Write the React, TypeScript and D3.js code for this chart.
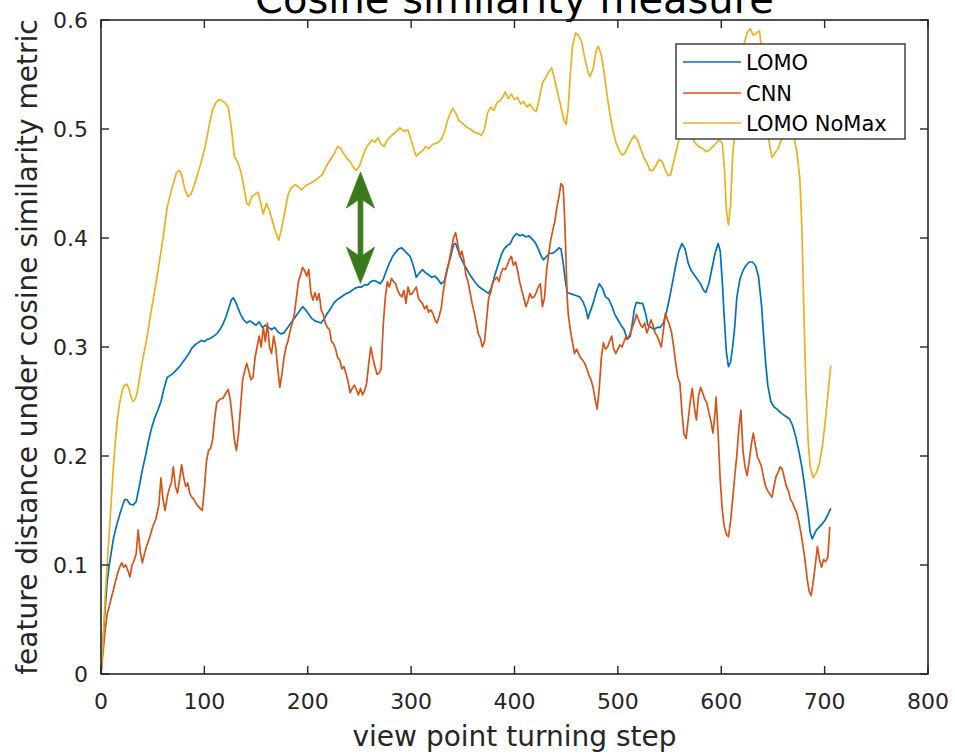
import React from "react";
import * as d3 from "d3";

// ---------- data ----------
const xTicks = [0, 100, 200, 300, 400, 500, 600, 700, 800];
const yTicks = [0, 0.1, 0.2, 0.3, 0.4, 0.5, 0.6];
const yTickLabels = ["0", "0.1", "0.2", "0.3", "0.4", "0.5", "0.6"];
const seriesNames = ["LOMO", "CNN", "LOMO NoMax"];
const titleText = "Cosine similarity measure";
const xLabel = "view point turning step";
const yLabel = "feature distance under cosine similarity metric";

// LOMO (blue)
const lomoX = [0,2,4,6,8,10,12,15,18,21,23,25,28,31,34,37,40,43,46,49,52,55,58,61,64,67,70,73,76,79,82,85,88,91,94,97,100,103,106,109,112,115,118,121,124,126,128,130,132,135,138,141,144,147,150,153,156,159,162,165,168,171,174,177,180,183,186,189,192,195,198,201,204,207,210,213,216,219,222,225,228,231,234,237,240,243,246,249,252,255,258,261,264,267,270,273,276,279,282,285,288,291,294,297,299,302,305,308,311,314,317,320,323,326,329,332,335,338,341,343,345,348,351,354,357,360,363,366,369,372,375,378,381,384,387,390,393,396,399,402,405,408,411,414,417,420,423,426,428,431,434,437,440,443,445,447,449,451,454,457,460,463,466,469,471,473,476,479,482,485,488,491,494,497,500,503,506,509,512,514,516,518,521,524,527,529,532,535,538,541,544,547,550,553,556,559,562,565,568,571,574,577,580,583,585,588,591,594,597,599,601,603,605,607,609,611,613,615,618,621,624,627,630,633,636,639,641,643,645,648,651,654,657,660,663,666,669,672,675,678,681,684,686,688,690,692,695,698,701,704,706];
const lomoY = [0,0.03,0.06,0.085,0.1,0.112,0.124,0.136,0.146,0.155,0.16,0.16,0.156,0.155,0.158,0.172,0.187,0.2,0.214,0.226,0.235,0.242,0.25,0.262,0.272,0.274,0.276,0.279,0.282,0.286,0.29,0.294,0.299,0.302,0.304,0.306,0.305,0.307,0.308,0.31,0.312,0.316,0.321,0.328,0.337,0.343,0.345,0.342,0.337,0.33,0.325,0.322,0.324,0.322,0.32,0.323,0.318,0.32,0.318,0.316,0.318,0.314,0.312,0.313,0.317,0.321,0.325,0.329,0.333,0.337,0.334,0.33,0.326,0.324,0.323,0.322,0.326,0.331,0.335,0.34,0.343,0.345,0.347,0.349,0.35,0.352,0.354,0.355,0.355,0.357,0.357,0.36,0.361,0.36,0.358,0.362,0.37,0.377,0.383,0.387,0.39,0.391,0.388,0.385,0.383,0.375,0.364,0.368,0.371,0.368,0.366,0.364,0.365,0.362,0.358,0.36,0.372,0.382,0.394,0.395,0.39,0.382,0.376,0.371,0.366,0.362,0.358,0.355,0.353,0.351,0.349,0.355,0.366,0.375,0.384,0.39,0.393,0.395,0.401,0.404,0.402,0.403,0.401,0.402,0.399,0.396,0.39,0.383,0.38,0.383,0.386,0.386,0.388,0.391,0.39,0.378,0.362,0.35,0.349,0.348,0.347,0.346,0.342,0.335,0.326,0.332,0.34,0.35,0.358,0.354,0.346,0.344,0.338,0.33,0.325,0.32,0.316,0.307,0.31,0.322,0.335,0.341,0.34,0.34,0.33,0.32,0.318,0.316,0.318,0.318,0.322,0.332,0.345,0.36,0.375,0.388,0.395,0.39,0.377,0.37,0.366,0.362,0.358,0.352,0.35,0.358,0.372,0.386,0.395,0.388,0.36,0.325,0.295,0.282,0.286,0.3,0.318,0.345,0.362,0.37,0.375,0.378,0.378,0.375,0.365,0.338,0.31,0.285,0.265,0.25,0.245,0.243,0.24,0.238,0.236,0.234,0.228,0.218,0.205,0.19,0.17,0.148,0.13,0.124,0.128,0.132,0.135,0.138,0.142,0.148,0.152];

// CNN (orange)
const cnnX = [0,2,4,6,8,10,12,14,16,18,20,22,24,26,28,30,32,34,36,38,40,42,44,47,50,53,56,58,60,62,64,66,68,70,72,74,76,78,80,82,84,86,88,90,93,96,98,100,102,104,106,108,110,112,115,118,121,123,125,127,129,131,133,135,137,139,141,143,145,147,149,151,153,155,157,159,161,163,165,167,169,171,173,175,177,179,181,183,185,187,189,191,193,195,197,199,201,203,205,207,209,211,213,215,217,219,221,223,225,227,229,231,233,235,237,239,241,243,245,247,249,251,253,255,257,259,261,263,265,267,269,271,273,275,277,279,281,283,285,287,289,291,293,295,297,299,301,303,305,307,309,311,313,315,317,319,321,323,325,327,329,331,333,335,337,339,341,343,345,347,349,351,353,355,357,359,361,363,365,367,369,371,373,375,377,379,381,383,385,387,389,391,393,395,397,399,401,403,405,407,409,411,413,415,417,419,421,423,425,427,429,431,433,435,437,439,441,443,445,447,448,449,450,451,452,454,456,458,460,462,464,466,468,470,472,474,476,478,480,482,484,486,488,490,492,494,496,498,500,502,504,506,508,510,512,514,516,518,520,522,524,526,528,530,532,534,536,538,540,542,544,546,548,550,552,554,556,558,560,562,564,566,568,570,572,574,576,578,580,582,584,586,588,590,592,594,595,597,599,601,603,605,607,609,611,613,615,617,619,621,623,625,627,629,631,633,635,637,639,641,643,645,647,649,651,653,655,657,659,661,663,665,667,669,671,673,675,677,679,681,683,685,687,689,691,693,695,697,699,701,703,704,705];
const cnnY = [0,0.02,0.04,0.055,0.062,0.07,0.077,0.085,0.092,0.098,0.102,0.098,0.1,0.095,0.089,0.1,0.104,0.11,0.132,0.112,0.102,0.11,0.117,0.125,0.135,0.142,0.155,0.18,0.16,0.15,0.162,0.17,0.175,0.19,0.172,0.166,0.178,0.192,0.18,0.172,0.175,0.165,0.162,0.16,0.155,0.152,0.15,0.17,0.195,0.205,0.207,0.215,0.235,0.249,0.252,0.253,0.258,0.261,0.252,0.235,0.215,0.205,0.22,0.245,0.27,0.278,0.285,0.278,0.27,0.272,0.29,0.3,0.31,0.3,0.318,0.305,0.322,0.3,0.294,0.31,0.3,0.28,0.263,0.275,0.29,0.3,0.306,0.315,0.322,0.33,0.345,0.36,0.366,0.373,0.37,0.365,0.371,0.35,0.343,0.35,0.343,0.349,0.334,0.33,0.322,0.318,0.316,0.305,0.303,0.298,0.29,0.288,0.28,0.282,0.276,0.268,0.258,0.262,0.265,0.261,0.256,0.262,0.256,0.26,0.267,0.285,0.3,0.29,0.282,0.275,0.276,0.28,0.32,0.345,0.36,0.355,0.363,0.36,0.358,0.352,0.348,0.346,0.352,0.34,0.355,0.348,0.349,0.352,0.355,0.345,0.342,0.34,0.335,0.338,0.332,0.334,0.331,0.325,0.322,0.328,0.335,0.35,0.362,0.371,0.38,0.39,0.4,0.405,0.395,0.383,0.388,0.38,0.366,0.36,0.35,0.34,0.332,0.322,0.312,0.308,0.3,0.305,0.325,0.345,0.35,0.36,0.362,0.364,0.36,0.368,0.372,0.371,0.375,0.38,0.383,0.375,0.378,0.37,0.36,0.352,0.345,0.337,0.342,0.349,0.345,0.346,0.35,0.355,0.358,0.337,0.345,0.37,0.385,0.398,0.407,0.415,0.428,0.438,0.45,0.447,0.43,0.405,0.375,0.345,0.33,0.316,0.305,0.294,0.298,0.294,0.29,0.288,0.285,0.28,0.274,0.27,0.263,0.252,0.243,0.262,0.29,0.304,0.298,0.3,0.305,0.31,0.298,0.294,0.298,0.302,0.3,0.305,0.31,0.308,0.313,0.318,0.323,0.33,0.325,0.32,0.318,0.322,0.313,0.318,0.325,0.32,0.313,0.31,0.305,0.3,0.315,0.331,0.325,0.32,0.313,0.3,0.285,0.272,0.267,0.24,0.22,0.216,0.233,0.25,0.262,0.245,0.233,0.255,0.263,0.258,0.252,0.249,0.24,0.232,0.221,0.24,0.254,0.22,0.178,0.15,0.135,0.128,0.126,0.14,0.16,0.181,0.2,0.225,0.242,0.205,0.19,0.182,0.195,0.21,0.221,0.21,0.199,0.195,0.19,0.18,0.172,0.168,0.165,0.162,0.172,0.181,0.185,0.19,0.188,0.18,0.172,0.168,0.16,0.157,0.152,0.148,0.14,0.13,0.118,0.105,0.088,0.076,0.072,0.085,0.1,0.117,0.105,0.098,0.105,0.103,0.107,0.12,0.135];

// LOMO NoMax (yellow)
const noMaxX = [0,2,4,6,8,10,12,14,16,18,20,22,25,27,29,31,33,35,38,41,44,48,52,56,60,64,67,70,73,76,78,81,84,87,90,93,97,101,105,108,111,114,117,120,123,126,129,132,135,138,141,143,146,149,152,155,157,160,163,166,169,172,175,178,181,184,188,191,194,198,202,206,210,214,218,222,226,229,232,235,238,241,244,247,250,253,256,259,262,265,268,271,274,277,281,285,289,293,297,300,303,305,308,311,314,317,321,325,329,332,336,340,343,346,350,353,357,361,365,368,371,374,377,380,383,386,389,391,394,397,400,403,406,409,412,415,418,421,424,427,430,433,436,439,442,445,448,450,452,454,456,459,462,465,468,471,473,476,479,481,484,486,489,492,495,498,501,504,507,510,513,516,519,522,525,528,531,534,537,540,543,546,549,551,553,556,559,562,566,570,574,578,582,586,590,594,598,601,603,605,607,609,611,613,616,619,622,625,628,631,634,637,640,643,646,649,652,655,658,662,666,670,673,676,678,680,682,684,686,689,692,695,698,701,704,706];
const noMaxY = [0,0.03,0.07,0.1,0.13,0.16,0.19,0.215,0.235,0.248,0.258,0.264,0.266,0.262,0.254,0.25,0.252,0.258,0.276,0.292,0.306,0.33,0.352,0.375,0.4,0.428,0.44,0.45,0.46,0.462,0.458,0.445,0.438,0.44,0.448,0.457,0.47,0.485,0.505,0.518,0.524,0.527,0.526,0.524,0.52,0.502,0.475,0.47,0.462,0.448,0.432,0.43,0.438,0.44,0.442,0.43,0.422,0.432,0.425,0.415,0.405,0.398,0.41,0.425,0.44,0.446,0.449,0.447,0.444,0.448,0.45,0.452,0.455,0.458,0.466,0.472,0.478,0.484,0.482,0.477,0.473,0.47,0.465,0.462,0.466,0.474,0.482,0.486,0.49,0.488,0.492,0.486,0.484,0.49,0.494,0.497,0.501,0.498,0.499,0.49,0.48,0.475,0.478,0.48,0.484,0.482,0.486,0.487,0.49,0.497,0.51,0.519,0.515,0.508,0.505,0.502,0.5,0.497,0.496,0.494,0.5,0.515,0.52,0.517,0.524,0.526,0.53,0.534,0.528,0.532,0.527,0.529,0.523,0.525,0.52,0.523,0.518,0.516,0.528,0.542,0.547,0.552,0.556,0.545,0.532,0.52,0.508,0.504,0.52,0.55,0.575,0.588,0.586,0.58,0.565,0.553,0.548,0.555,0.572,0.576,0.568,0.556,0.535,0.515,0.5,0.488,0.481,0.476,0.478,0.484,0.49,0.494,0.49,0.482,0.474,0.469,0.462,0.462,0.467,0.472,0.47,0.462,0.457,0.458,0.466,0.478,0.49,0.5,0.503,0.496,0.488,0.484,0.482,0.479,0.482,0.486,0.49,0.487,0.465,0.425,0.412,0.43,0.475,0.495,0.52,0.555,0.578,0.588,0.592,0.586,0.588,0.59,0.565,0.52,0.49,0.474,0.478,0.482,0.49,0.495,0.497,0.494,0.48,0.455,0.41,0.33,0.26,0.215,0.19,0.18,0.185,0.193,0.21,0.235,0.265,0.283];

const colors = ["#0072BD", "#D95319", "#EDB120"];

// annotation arrow (data coordinates)
const arrowX = [251];
const arrowYTop = [0.4605];
const arrowYBottom = [0.3585];

// ---------- layout ----------
const W = 955;
const H = 754;
const x = d3.scaleLinear().domain([0, 800]).range([101, 928]);
const y = d3.scaleLinear().domain([0, 0.6]).range([674, 20]);
const axisColor = "#262626";
const font = "'DejaVu Sans', Verdana, sans-serif";

function zip(xs: number[], ys: number[]): [number, number][] {
  return xs.map((v, i) => [v, ys[i]]);
}

export default function App() {
  const line = d3
    .line<[number, number]>()
    .x((d) => x(d[0]))
    .y((d) => y(d[1]));

  const series = [zip(lomoX, lomoY), zip(cnnX, cnnY), zip(noMaxX, noMaxY)];

  const [x0, x1] = x.range();
  const [y0, y1] = y.range();
  const tickLen = 8;

  // arrow geometry
  const ax = x(arrowX[0]);
  const aTop = y(arrowYTop[0]);
  const aBot = y(arrowYBottom[0]);
  const headL = 36;
  const headW = 14;
  const notch = 8;
  const shaftW = 2.4;
  const arrowPath = [
    `M${ax},${aTop}`,
    `L${ax + headW},${aTop + headL}`,
    `L${ax + shaftW},${aTop + headL - notch}`,
    `L${ax + shaftW},${aBot - headL + notch}`,
    `L${ax + headW},${aBot - headL}`,
    `L${ax},${aBot}`,
    `L${ax - headW},${aBot - headL}`,
    `L${ax - shaftW},${aBot - headL + notch}`,
    `L${ax - shaftW},${aTop + headL - notch}`,
    `L${ax - headW},${aTop + headL}`,
    "Z",
  ].join(" ");

  // legend
  const lgX = 676;
  const lgY = 44;
  const lgW = 229;
  const lgH = 95;
  const rowY = [62, 93, 123];

  return (
    <svg
      width={W}
      height={H}
      style={{ position: "absolute", left: 0, top: 0, background: "#fff" }}
      fontFamily={font}
    >
      <rect x={0} y={0} width={W} height={H} fill="#fff" />
      {/* title */}
      <text
        x={(x0 + x1) / 2}
        y={13}
        textAnchor="middle"
        fontSize={40}
        fill="#000"
      >
        {titleText}
      </text>

      {/* series */}
      <defs>
        <clipPath id="plotclip">
          <rect x={x0} y={y1} width={x1 - x0} height={y0 - y1} />
        </clipPath>
      </defs>
      <g clipPath="url(#plotclip)">
        {series.map((s, i) => (
          <path
            key={i}
            d={line(s) || ""}
            fill="none"
            stroke={colors[i]}
            strokeWidth={1.7}
            strokeLinejoin="round"
          />
        ))}
      </g>

      {/* axes box */}
      <rect
        x={x0}
        y={y1}
        width={x1 - x0}
        height={y0 - y1}
        fill="none"
        stroke={axisColor}
        strokeWidth={1.6}
      />
      {xTicks.map((t) => (
        <g key={"xt" + t}>
          <line x1={x(t)} x2={x(t)} y1={y0} y2={y0 - tickLen} stroke={axisColor} strokeWidth={1.4} />
          <line x1={x(t)} x2={x(t)} y1={y1} y2={y1 + tickLen} stroke={axisColor} strokeWidth={1.4} />
          <text x={x(t)} y={709} textAnchor="middle" fontSize={22} fill={axisColor}>
            {t}
          </text>
        </g>
      ))}
      {yTicks.map((t, i) => (
        <g key={"yt" + t}>
          <line x1={x0} x2={x0 + tickLen} y1={y(t)} y2={y(t)} stroke={axisColor} strokeWidth={1.4} />
          <line x1={x1} x2={x1 - tickLen} y1={y(t)} y2={y(t)} stroke={axisColor} strokeWidth={1.4} />
          <text x={88} y={y(t)} dy="0.36em" textAnchor="end" fontSize={22} fill={axisColor}>
            {yTickLabels[i]}
          </text>
        </g>
      ))}

      {/* axis labels */}
      <text x={(x0 + x1) / 2} y={746} textAnchor="middle" fontSize={28} fill={axisColor}>
        {xLabel}
      </text>
      <text
        transform={`translate(37,${(y0 + y1) / 2}) rotate(-90)`}
        textAnchor="middle"
        fontSize={28}
        fill={axisColor}
      >
        {yLabel}
      </text>

      {/* annotation arrow */}
      <path d={arrowPath} fill="#3a7a1d" stroke="#3a7a1d" strokeWidth={0.8} />

      {/* legend */}
      <rect x={lgX} y={lgY} width={lgW} height={lgH} fill="#fff" stroke="#262626" strokeWidth={1.3} />
      {seriesNames.map((n, i) => (
        <g key={n}>
          <line x1={683} x2={741} y1={rowY[i]} y2={rowY[i]} stroke={colors[i]} strokeWidth={1.7} />
          <text x={746} y={rowY[i]} dy="0.36em" fontSize={21} fill="#000">
            {n}
          </text>
        </g>
      ))}
    </svg>
  );
}
